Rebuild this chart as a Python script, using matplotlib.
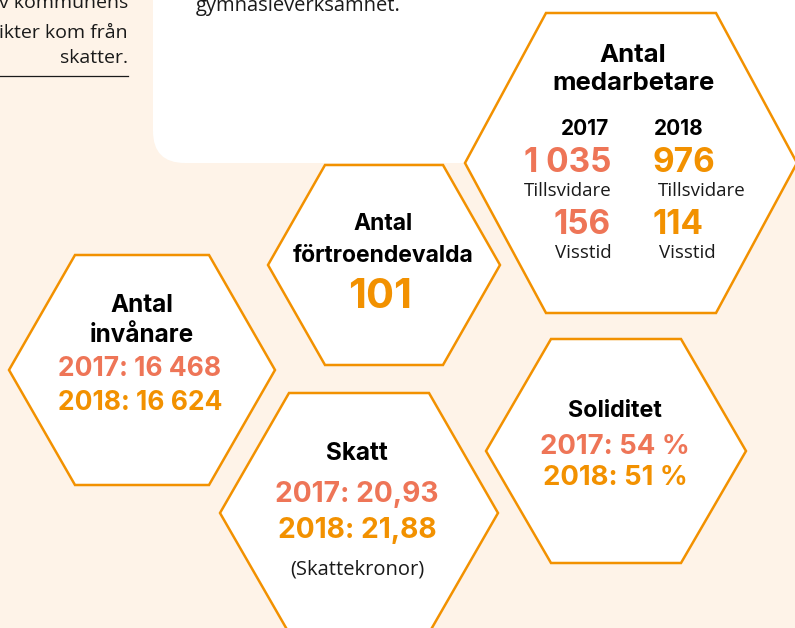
import matplotlib.pyplot as plt
from matplotlib.patches import Polygon, FancyBboxPatch

# data read from the infographic
years = ['2017', '2018']
invanare = ['16 468', '16 624']
skatt = ['20,93', '21,88']
soliditet = ['54 %', '51 %']
fortroendevalda = '101'
medarb_tillsvidare = ['1 035', '976']
medarb_visstid = ['156', '114']

ORANGE = '#F29100'
SALMON = '#EE7557'
CREAM = '#FEF3E8'
INK = '#1a1a1a'
BOLD = 'Inter'
REG = 'Open Sans'


def hexagon(ax, cx, cy, r, half_top, half_h):
    pts = [(cx - r, cy), (cx - half_top, cy - half_h), (cx + half_top, cy - half_h),
           (cx + r, cy), (cx + half_top, cy + half_h), (cx - half_top, cy + half_h)]
    ax.add_patch(Polygon(pts, closed=True, facecolor='white', edgecolor=ORANGE,
                         linewidth=1.8, joinstyle='miter', zorder=2))


def bold(ax, x, y, s, size, color='black', ha='center'):
    ax.text(x, y, s, ha=ha, va='center', fontsize=size, family=BOLD,
            weight='bold', color=color, zorder=3)


def plain(ax, x, y, s, size, ha='center', va='center'):
    ax.text(x, y, s, ha=ha, va=va, fontsize=size, family=REG, color=INK, zorder=3)


fig = plt.figure(figsize=(7.95, 6.28), dpi=100)
fig.patch.set_facecolor(CREAM)
ax = fig.add_axes([0, 0, 1, 1])
ax.set_xlim(0, 795)
ax.set_ylim(628, 0)
ax.axis('off')

# white text panel at the top
ax.add_patch(FancyBboxPatch((153, -60), 700, 223, boxstyle='round,pad=0,rounding_size=32',
                            facecolor='white', edgecolor='none', zorder=1))

# left column text (cut off at the top in the original too)
plain(ax, 128, 8, 'v kommunens', 14, ha='right', va='baseline')
plain(ax, 128, 38, 'ikter kom från', 14, ha='right', va='baseline')
plain(ax, 128, 63, 'skatter.', 14, ha='right', va='baseline')
ax.plot([0, 128], [76, 76], color=INK, linewidth=0.9)
plain(ax, 196, 11, 'gymnasieverksamhet.', 14.5, ha='left', va='baseline')

# hexagons
hexagon(ax, 631, 163, 166, 85, 150)   # medarbetare
hexagon(ax, 384, 265, 116, 59, 100)   # förtroendevalda
hexagon(ax, 142, 370, 133, 67, 115)   # invånare
hexagon(ax, 359, 513, 139, 70, 120)   # skatt
hexagon(ax, 616, 451, 130, 65, 112)   # soliditet

# Antal medarbetare
bold(ax, 633, 55, 'Antal', 18.5)
bold(ax, 633, 83, 'medarbetare', 18.5)
bold(ax, 585, 129, years[0], 15)
bold(ax, 679, 129, years[1], 15)
bold(ax, 611, 163, medarb_tillsvidare[0], 24, SALMON, ha='right')
bold(ax, 653, 163, medarb_tillsvidare[1], 24, ORANGE, ha='left')
plain(ax, 568, 191, 'Tillsvidare', 13.5)
plain(ax, 702, 191, 'Tillsvidare', 13.5)
bold(ax, 611, 225, medarb_visstid[0], 24, SALMON, ha='right')
bold(ax, 653, 225, medarb_visstid[1], 24, ORANGE, ha='left')
plain(ax, 583, 253, 'Visstid', 13.5)
plain(ax, 687, 253, 'Visstid', 13.5)

# Antal förtroendevalda
bold(ax, 383, 224, 'Antal', 16.5)
bold(ax, 383, 256, 'förtroendevalda', 16.5)
bold(ax, 380, 297, fortroendevalda, 30, ORANGE)

# Antal invånare
bold(ax, 142, 305, 'Antal', 17.5)
bold(ax, 142, 335, 'invånare', 17.5)
bold(ax, 140, 369, f'{years[0]}: {invanare[0]}', 19, SALMON)
bold(ax, 140, 403, f'{years[1]}: {invanare[1]}', 19, ORANGE)

# Skatt
bold(ax, 357, 454, 'Skatt', 17.5)
bold(ax, 357, 495, f'{years[0]}: {skatt[0]}', 20.3, SALMON)
bold(ax, 357, 530, f'{years[1]}: {skatt[1]}', 20.3, ORANGE)
plain(ax, 357, 570, '(Skattekronor)', 14.5)

# Soliditet
bold(ax, 615, 411, 'Soliditet', 16.8)
bold(ax, 615, 447, f'{years[0]}: {soliditet[0]}', 19.8, SALMON)
bold(ax, 615, 478, f'{years[1]}: {soliditet[1]}', 19.8, ORANGE)

fig.savefig('out.png', dpi=100, facecolor=fig.get_facecolor())
